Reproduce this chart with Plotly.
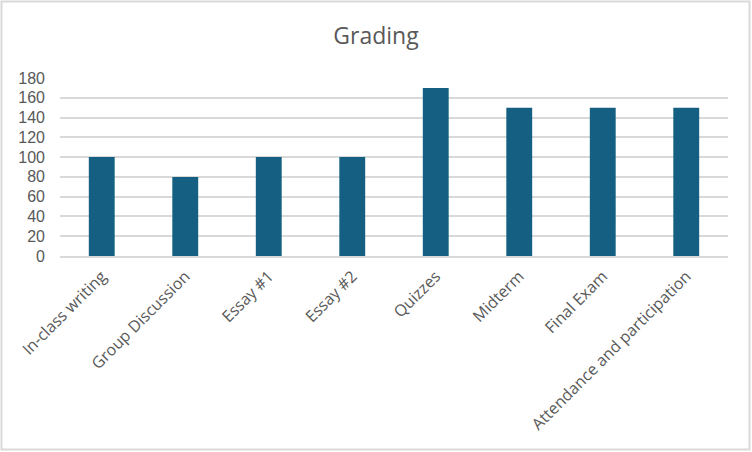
import plotly.graph_objects as go

# Data
categories = ["In-class writing", "Group Discussion", "Essay #1", "Essay #2",
              "Quizzes", "Midterm", "Final Exam", "Attendance and participation"]
points = [100, 80, 100, 100, 170, 150, 150, 150]

W, H = 752, 452
ml, mr, mt, mb = 60, 24, 78, 196
pw, ph = W - ml - mr, H - mt - mb

fig = go.Figure(go.Bar(x=categories, y=points, marker_color="#156082",
                       marker_line_width=0))

# chart border (outer frame like Excel)
fig.add_shape(type="rect", xref="paper", yref="paper",
              x0=(1.5 - ml) / pw, x1=(W - 2.5 - ml) / pw,
              y0=(H - mb - (H - 2.5)) / ph, y1=(H - mb - 1.5) / ph,
              line=dict(color="#D9D9D9", width=2), layer="below")

fig.update_layout(
    width=W, height=H,
    margin=dict(l=ml, r=mr, t=mt, b=mb),
    paper_bgcolor="white", plot_bgcolor="white",
    font=dict(family="Open Sans", color="#595959", size=16),
    title=dict(text="Grading", x=0.5, xanchor="center", y=1 - 36 / H, yanchor="middle",
               font=dict(size=23, color="#595959")),
    bargap=0.69,
    showlegend=False,
)
fig.update_xaxes(tickangle=-45, showgrid=False, showline=True, linecolor="#D9D9D9",
                 linewidth=1.5, ticks="", tickfont=dict(size=16), ticklabelstandoff=3)
fig.update_yaxes(range=[0, 180], dtick=20, showgrid=True, gridcolor="#D9D9D9",
                 gridwidth=1.5, zeroline=False, ticks="", showline=False,
                 tickfont=dict(family="Liberation Sans", size=16), ticklabelstandoff=14)

# remove the default page margin so the figure sits at (0, 0)
fig.write_html("out.html", config={"displayModeBar": False},
               post_script="document.body.style.margin='0';")
